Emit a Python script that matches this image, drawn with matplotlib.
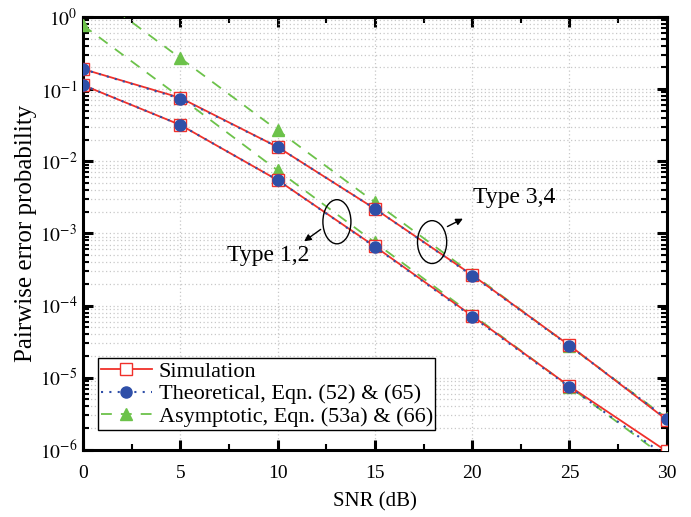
import matplotlib
matplotlib.use("Agg")
import matplotlib.pyplot as plt
from matplotlib.patches import Ellipse
from matplotlib.ticker import LogLocator, FixedLocator, NullFormatter

plt.rcParams['font.family'] = ['Liberation Serif', 'DejaVu Serif']
plt.rcParams['mathtext.fontset'] = 'stix'

snr = [0, 5, 10, 15, 20, 25, 30]
# Type 3,4 (upper curves)
sim_34 = [0.19, 0.076, 0.0158, 0.0022, 2.65e-4, 2.8e-5, 2.6e-6]
theo_34 = [0.19, 0.074, 0.0158, 0.0022, 2.6e-4, 2.75e-5, 2.7e-6]
asym_34 = [2.7, 0.27, 0.027, 0.0027, 2.75e-4, 2.75e-5, 2.75e-6]
# Type 1,2 (lower curves)
sim_12 = [0.114, 0.032, 0.0055, 6.6e-4, 7.2e-5, 7.6e-6, 9.5e-7]
theo_12 = [0.114, 0.032, 0.0055, 6.5e-4, 7.0e-5, 7.4e-6, 8.0e-7]
asym_12 = [0.77, 0.077, 0.0075, 7.5e-4, 7.5e-5, 7.5e-6, 7.5e-7]

xticks = [0, 5, 10, 15, 20, 25, 30]
ytick_exps = [0, -1, -2, -3, -4, -5, -6]

fig = plt.figure(figsize=(6.91, 5.17), dpi=100)
ax = fig.add_axes([0.120, 0.130, 0.845, 0.837])

red = '#f0302a'
blue = '#2f4fa8'
green = '#6cc24a'

for s, t, a, lab in [(sim_34, theo_34, asym_34, True), (sim_12, theo_12, asym_12, False)]:
    ax.plot(snr, a, linestyle=(0, (6, 5)), color=green, lw=1.3, marker='^', ms=8,
            mfc=green, mec=green, label='Asymptotic, Eqn. (53a) & (66)' if lab else None, zorder=3)
    ax.plot(snr, s, '-', color=red, lw=1.3, marker='s', ms=9, mfc='white', mec=red, mew=1.0,
            label='Simulation' if lab else None, zorder=4)
    ax.plot(snr, t, linestyle=(0, (1, 3)), color=blue, lw=1.5, marker='o', ms=8, mfc=blue, mec=blue,
            label='Theoretical, Eqn. (52) & (65)' if lab else None, zorder=5)

ax.set_yscale('log')
ax.set_xlim(0, 30)
ax.set_ylim(1e-6, 1)
ax.set_xticks(xticks)
ax.set_xticklabels([str(v) for v in xticks])
ax.xaxis.set_minor_locator(FixedLocator([2.5, 7.5, 12.5, 17.5, 22.5, 27.5]))
ax.set_yticks([10.0 ** e for e in ytick_exps])
ax.set_yticklabels([r'$10^{%d}$' % e for e in ytick_exps])
ax.yaxis.set_minor_locator(LogLocator(base=10, subs=range(2, 10), numticks=20))
ax.yaxis.set_minor_formatter(NullFormatter())

ax.grid(True, which='major', axis='x', color='#c8c8c8', linestyle=(0, (1, 2)), lw=0.9)
ax.grid(True, which='both', axis='y', color='#c8c8c8', linestyle=(0, (1, 2)), lw=0.9)

for sp in ax.spines.values():
    sp.set_linewidth(2.2)
ax.tick_params(which='major', direction='in', length=7, width=2.2, top=True, right=True, labelsize=14)
ax.tick_params(axis='x', which='major', pad=11)
ax.tick_params(axis='y', which='major', pad=4)
ax.tick_params(which='minor', direction='in', length=4, width=1.5, top=True, right=True)

ax.set_xlabel('SNR (dB)', fontsize=15, labelpad=7)
ax.set_ylabel('Pairwise error probability', fontsize=18, labelpad=2)

# legend order
h, l = ax.get_legend_handles_labels()
order = [l.index('Simulation'), l.index('Theoretical, Eqn. (52) & (65)'), l.index('Asymptotic, Eqn. (53a) & (66)')]
leg = ax.legend([h[i] for i in order], [l[i] for i in order], loc='lower left',
                bbox_to_anchor=(0.026, 0.046), fontsize=16, frameon=True, fancybox=False,
                edgecolor='black', framealpha=1, borderpad=0.12, labelspacing=0.1,
                handlelength=2.3, handletextpad=0.3, borderaxespad=0)
leg.get_frame().set_linewidth(1.0)

# annotations
ax.add_patch(Ellipse((0.435, 0.527), 0.048, 0.102, transform=ax.transAxes,
                     fill=False, edgecolor='black', lw=1.0, zorder=6))
ax.add_patch(Ellipse((0.598, 0.480), 0.050, 0.099, transform=ax.transAxes,
                     fill=False, edgecolor='black', lw=1.0, zorder=6))
ax.annotate('', xy=(0.375, 0.478), xytext=(0.411, 0.513), xycoords='axes fraction',
            arrowprops=dict(arrowstyle='-|>', color='black', lw=1.0, mutation_scale=10))
ax.annotate('', xy=(0.655, 0.537), xytext=(0.620, 0.513), xycoords='axes fraction',
            arrowprops=dict(arrowstyle='-|>', color='black', lw=1.0, mutation_scale=10))
ax.text(0.247, 0.450, 'Type 1,2', transform=ax.transAxes, fontsize=17, va='center', ha='left')
ax.text(0.668, 0.584, 'Type 3,4', transform=ax.transAxes, fontsize=17, va='center', ha='left')

fig.savefig('out.png', dpi=100)
